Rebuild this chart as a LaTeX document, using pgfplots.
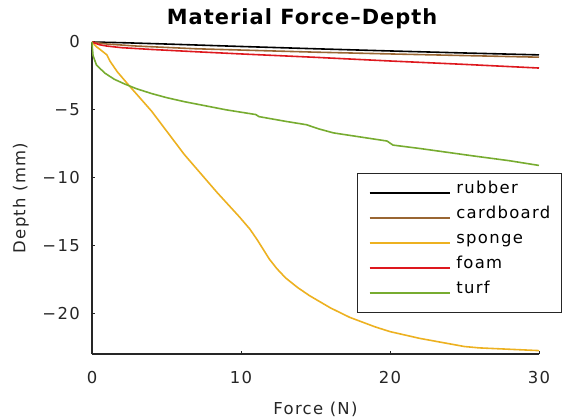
\documentclass[border=0pt]{standalone}
\usepackage{pgfplots}
\pgfplotsset{compat=1.18}
\usepackage{fontspec}
\setmainfont[LetterSpace=8]{DejaVu Sans}
\newfontfamily\titlefont[LetterSpace=5]{DejaVu Sans}
\definecolor{cRub}{RGB}{0,0,0}
\definecolor{cCard}{RGB}{153,102,51}
\definecolor{cSponge}{RGB}{237,177,32}
\definecolor{cFoam}{RGB}{222,24,30}
\definecolor{cTurf}{RGB}{119,172,48}
\definecolor{axc}{RGB}{38,38,38}
\begin{document}
\begin{tikzpicture}
\path[use as bounding box, fill=white] (0bp,0bp) rectangle (564bp,418bp);
\begin{axis}[
  at={(92bp,64bp)}, anchor=south west,
  width=447bp, height=312bp, scale only axis,
  xmin=0, xmax=30, ymin=-23, ymax=0,
  clip=false,
  axis x line=bottom, axis y line=left,
  axis line style={axc, line width=1.3pt, -},
  xtick={0,10,20,30},
  ytick={-20,-15,-10,-5,0},
  yticklabels={−20,−15,−10,−5,0},
  tick align=inside, major tick length=3bp,
  tick style={axc, line width=1pt},
  /pgf/number format/assume math mode=true,
  ticklabel style={font=\fontsize{16.5}{19}\selectfont, text=axc},
  xticklabel style={inner sep=0pt, anchor=north, yshift=-17bp},
  yticklabel style={inner sep=0pt, anchor=east, xshift=-12bp},
  title={Material Force–Depth},
  title style={font=\fontsize{21}{24}\titlefont\bfseries, at={(axis description cs:0.47,1.0385)}, anchor=base, inner sep=0pt},
  xlabel={Force (N)},
  xlabel style={font=\fontsize{16.5}{19}\selectfont, text=axc, at={(axis description cs:0.5,-0.1923)}, anchor=base, inner sep=0pt},
  ylabel={Depth (mm)},
  ylabel style={font=\fontsize{16.5}{19}\selectfont, text=axc, at={(axis description cs:-0.159,0.5)}, anchor=center, inner sep=0pt},
  every axis plot/.append style={line width=1.6pt},
  legend cell align=left,
  legend image code/.code={\draw[#1] (0bp,0bp) -- (80bp,0bp);},
  legend style={at={(axis description cs:0.593,0.580)}, anchor=north west,
    draw=axc, line width=1.3pt, fill=white,
    inner xsep=11bp, inner ysep=7bp, row sep=0pt,
    font=\fontsize{16.5}{19}\selectfont,
    nodes={inner sep=0pt, text height=13bp, text depth=12bp},
    /tikz/every odd column/.append style={column sep=6bp}},
]
\addplot[cRub] coordinates {(0,0) (2,-0.05) (5,-0.15) (10,-0.33) (15,-0.5) (20,-0.66) (25,-0.81) (30,-0.95)};
\addlegendentry{rubber}
\addplot[cCard] coordinates {(0,0) (1,-0.15) (3,-0.3) (7,-0.5) (15,-0.75) (20,-0.88) (25,-1.0) (30,-1.12)};
\addlegendentry{cardboard}
\addplot[cSponge] coordinates {(0,0) (0.3,-0.35) (0.6,-0.6) (1,-0.95) (1.2,-1.4) (1.7,-2.2) (2.4,-3.1) (4,-5.1) (6.2,-8.3) (8.4,-11.1) (9.9,-12.9) (10.6,-13.8) (11.1,-14.6) (11.5,-15.3) (11.9,-16.0) (12.4,-16.7) (13.0,-17.4) (13.8,-18.1) (14.6,-18.7) (16,-19.6) (17.3,-20.3) (19,-21.0) (20,-21.35) (22,-21.85) (24,-22.25) (25,-22.45) (26,-22.55) (28,-22.65) (30,-22.75)};
\addlegendentry{sponge}
\addplot[cFoam] coordinates {(0,0) (0.5,-0.2) (1,-0.3) (2,-0.42) (4,-0.55) (7,-0.72) (10,-0.88) (15,-1.13) (20,-1.4) (25,-1.65) (30,-1.92)};
\addlegendentry{foam}
\addplot[cTurf] coordinates {(0,0) (0.03,-0.5) (0.07,-1.0) (0.3,-1.7) (0.87,-2.3) (1.5,-2.75) (2.2,-3.1) (3,-3.45) (4,-3.8) (5,-4.1) (6.2,-4.4) (7.6,-4.7) (9,-5.0) (11,-5.35) (11.2,-5.5) (13,-5.85) (14.4,-6.1) (15.2,-6.4) (16.2,-6.7) (18,-7.0) (19.8,-7.3) (20.2,-7.6) (22,-7.85) (25.6,-8.4) (28,-8.75) (30,-9.1)};
\addlegendentry{turf}
\end{axis}
\end{tikzpicture}
\end{document}
